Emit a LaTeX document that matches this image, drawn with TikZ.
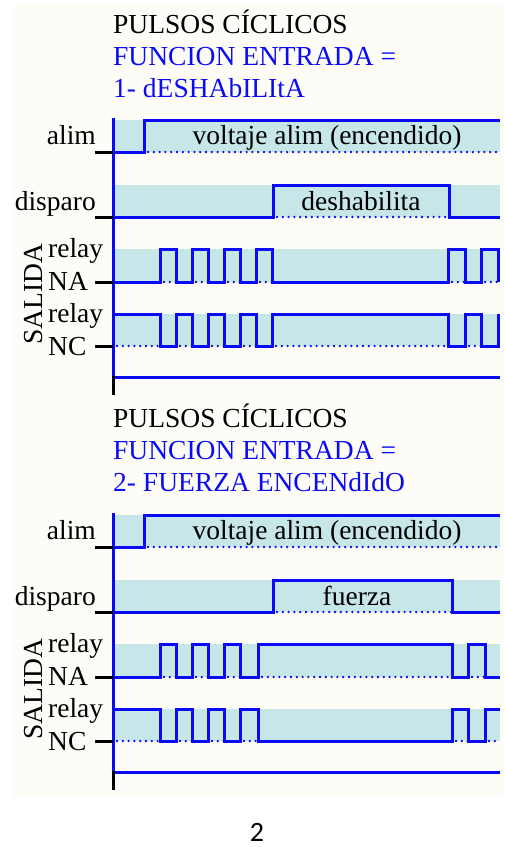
\documentclass[tikz,border=0pt]{standalone}
\usepackage{fontspec}
\setmainfont{Liberation Serif}
\newfontfamily\numfont{Carlito}
\definecolor{banda}{RGB}{198,230,232}
\definecolor{papel}{RGB}{253,252,247}
\definecolor{azul}{RGB}{10,10,245}
\tikzset{
	bd/.style={fill=banda},
	sg/.style={azul, line width=3pt},
	pt/.style={azul, line width=2.6pt, line cap=round, dash pattern=on 0pt off 5.8pt},
	tk/.style={black, line width=3pt},
	tx/.style={font=\fontsize{27.5}{33}\selectfont, inner sep=0pt},
}

\begin{document}
\begin{tikzpicture}[x=1pt, y=-1pt]
	\useasboundingbox (0,0) rectangle (504,847);
	\fill [papel] (13,4) rectangle (504,797);

	% marco comun de las dos partes
	\foreach \s in {0,395} {
	\begin{scope}[shift={(0,\s)}]
		\fill [bd] (113,120) rectangle (500,152);
		\fill [bd] (113,185) rectangle (500,217);
		\fill [bd] (113,249) rectangle (500,282);
		\fill [bd] (113,314) rectangle (500,346);

		\draw [sg] (113,118) -- (113,377) -- (500,377);
		\draw [tk] (113,376) -- (113,395);
		\draw [tk] (95,152) -- (113,152);
		\draw [tk] (95,217) -- (113,217);
		\draw [tk] (95,282) -- (113,282);
		\draw [tk] (95,346) -- (113,346);

		\draw [pt] (148,152) -- (500,152);
		\draw [sg] (113,152) -- (144,152) -- (144,120) -- (500,120);

		\node [tx, anchor=base east] (alim\s) at (96,144) {alim};
		\node [tx, anchor=base east] (disp\s) at (96,210) {disparo};
		\node [tx, anchor=base west] (rna\s) at (48,257) {relay};
		\node [tx, anchor=base west] (na\s) at (48,290) {NA};
		\node [tx, anchor=base west] (rnc\s) at (48,322) {relay};
		\node [tx, anchor=base west] (nc\s) at (48,355) {NC};
		\node [tx, rotate=90, anchor=base west] (sal\s) at (42,345) {SALIDA};
		\node [tx, anchor=base] (volt\s) at (327,144) {voltaje alim (encendido)};
	\end{scope}
	}

	% parte 1
	\node [tx, anchor=base west] (tit1) at (113,33) {PULSOS CÍCLICOS};
	\node [tx, azul, anchor=base west] (fun1) at (113,65) {FUNCION ENTRADA =};
	\node [tx, azul, anchor=base west] (mod1) at (113,97) {1- dESHAbILItA};

	\draw [pt] (277,217) -- (449,217);
	\draw [sg] (113,217) -| (273,185) -| (449,217) -- (500,217);
	\node [tx, anchor=base] (desh) at (361,210) {deshabilita};

	\draw [pt] (164,282) -- (176,282);
	\draw [pt] (196,282) -- (208,282);
	\draw [pt] (228,282) -- (240,282);
	\draw [pt] (260,282) -- (272,282);
	\draw [pt] (452,282) -- (465,282);
	\draw [pt] (485,282) -- (498,282);
	\draw [sg] (113,282) -| (160,249) -| (176,282) -| (192,249) -| (208,282) -| (224,249) -| (240,282)
		-| (256,249) -| (272,282) -| (448,249) -| (465,282) -| (481,249) -| (498,282);

	\draw [pt] (117,346) -- (160,346);
	\draw [pt] (180,346) -- (192,346);
	\draw [pt] (212,346) -- (224,346);
	\draw [pt] (244,346) -- (256,346);
	\draw [pt] (276,346) -- (448,346);
	\draw [pt] (469,346) -- (481,346);
	\draw [sg] (113,314) -| (160,346) -| (176,314) -| (192,346) -| (208,314) -| (224,346) -| (240,314)
		-| (256,346) -| (272,314) -| (448,346) -| (465,314) -| (481,346) -| (498,314);

	% parte 2
	\node [tx, anchor=base west] (tit2) at (113,427) {PULSOS CÍCLICOS};
	\node [tx, azul, anchor=base west] (fun2) at (113,459) {FUNCION ENTRADA =};
	\node [tx, azul, anchor=base west] (mod2) at (113,491) {2- FUERZA ENCENdIdO};

	\draw [pt] (277,612) -- (452,612);
	\draw [sg] (113,612) -| (273,580) -| (452,612) -- (500,612);
	\node [tx, anchor=base] (fuer) at (357,605) {fuerza};

	\draw [pt] (164,677) -- (176,677);
	\draw [pt] (196,677) -- (208,677);
	\draw [pt] (228,677) -- (240,677);
	\draw [pt] (262,677) -- (452,677);
	\draw [pt] (472,677) -- (485,677);
	\draw [sg] (113,677) -| (160,644) -| (176,677) -| (192,644) -| (208,677) -| (224,644) -| (240,677)
		-| (258,644) -| (452,677) -| (468,644) -| (485,677) -- (500,677);

	\draw [pt] (117,741) -- (160,741);
	\draw [pt] (180,741) -- (192,741);
	\draw [pt] (212,741) -- (224,741);
	\draw [pt] (244,741) -- (258,741);
	\draw [pt] (456,741) -- (468,741);
	\draw [pt] (489,741) -- (500,741);
	\draw [sg] (113,709) -| (160,741) -| (176,709) -| (192,741) -| (208,709) -| (224,741) -| (240,709)
		-| (258,741) -| (452,709) -| (468,741) -| (485,709) -- (500,709);

	\node [font=\numfont\fontsize{28}{30}\selectfont, inner sep=0pt, anchor=base] (pag) at (257,841) {2};
\end{tikzpicture}
\end{document}
